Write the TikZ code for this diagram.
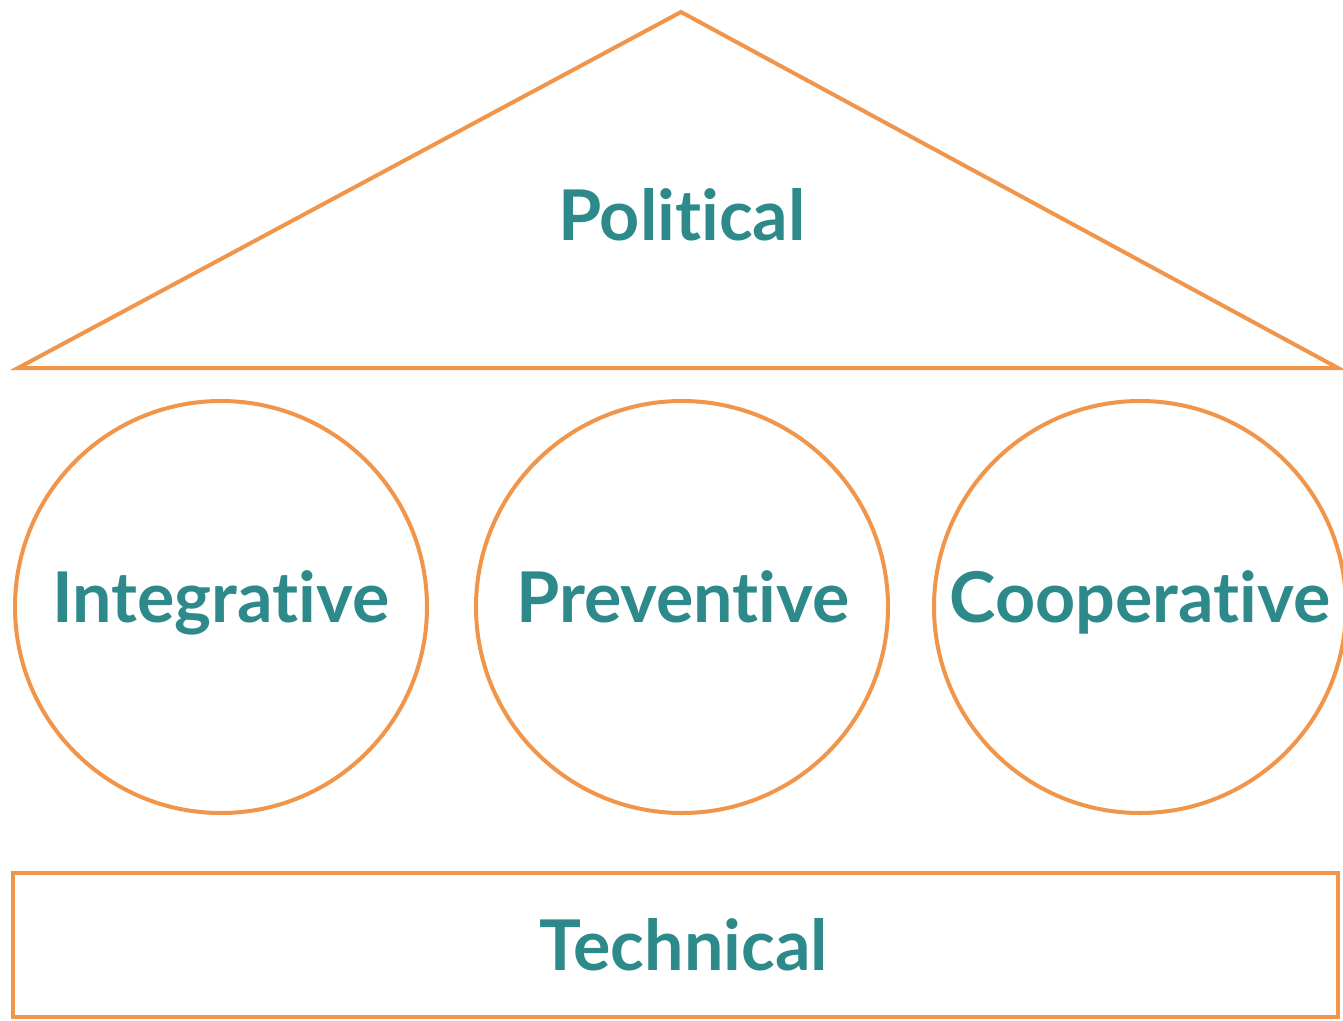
\documentclass[tikz,border=0pt]{standalone}
\usepackage{fontspec}
\setmainfont[Ligatures=NoCommon]{Lato}
\definecolor{orng}{HTML}{F0954A}
\definecolor{teal2}{HTML}{2E8A8A}
\begin{document}
\begin{tikzpicture}[x=1pt,y=-1pt,
  shapeline/.style={draw=orng,line width=4pt,line join=miter},
  lbl/.style={text=teal2,font=\fontsize{70}{80}\selectfont\bfseries,inner sep=0pt,anchor=base}]
\useasboundingbox (0,0) rectangle (1343,1020);
\draw[shapeline] (681,12) -- (1338,368) -- (18,368) -- cycle;
\node[lbl] (pol) at (682,240) {Political};
\node[shapeline,circle,minimum size=412pt,inner sep=0pt] (c1) at (221,607) {};
\node[shapeline,circle,minimum size=412pt,inner sep=0pt] (c2) at (682,607) {};
\node[shapeline,circle,minimum size=412pt,inner sep=0pt] (c3) at (1140,607) {};
\node[lbl] (int) at (221,622) {Integrative};
\node[lbl] (pre) at (683,622) {Preventive};
\node[lbl] (coo) at (1140,622) {Cooperative};
\draw[shapeline] (13,873) rectangle (1338,1017);
\node[lbl] (tec) at (684,970) {Technical};
\end{tikzpicture}
\end{document}
